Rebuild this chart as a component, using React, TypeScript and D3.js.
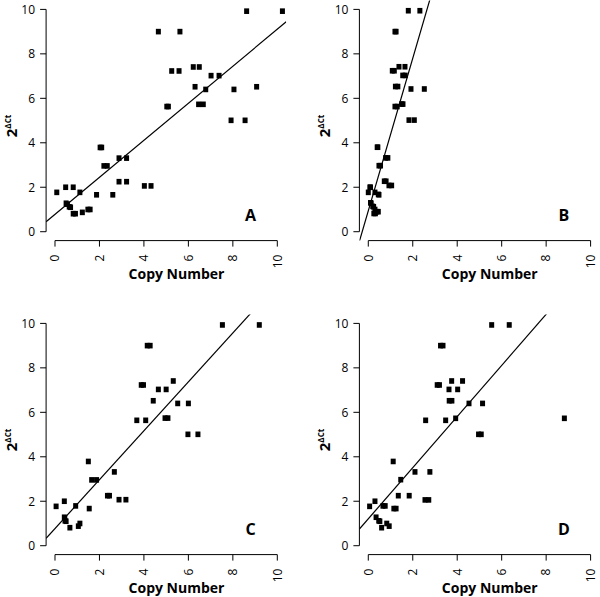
import React from 'react';
import * as d3 from 'd3';

const panelLabels = ['A', 'B', 'C', 'D'];
const xTicks = [0, 2, 4, 6, 8, 10];
const yTicks = [0, 2, 4, 6, 8, 10];
const xLabel = 'Copy Number';

// [copy number, 2^dCt]
const pointsA: [number, number][] = [
  [8.62, 9.92], [10.23, 9.92], [4.65, 9.0], [5.62, 9.0], [6.22, 7.41], [6.49, 7.41],
  [5.25, 7.23], [5.58, 7.23], [7.02, 7.02], [7.38, 7.02], [6.3, 6.52], [9.07, 6.52],
  [6.78, 6.4], [8.05, 6.4], [6.46, 5.73], [6.67, 5.73], [5.03, 5.63], [5.1, 5.63],
  [7.92, 5.01], [8.55, 5.01], [2.03, 3.79], [2.1, 3.79], [2.88, 3.31], [3.22, 3.31],
  [2.2, 2.96], [2.35, 2.96], [2.88, 2.25], [3.22, 2.25], [4.02, 2.06], [4.32, 2.06],
  [0.48, 2.0], [0.82, 2.0], [0.08, 1.77], [1.12, 1.77], [1.87, 1.66], [2.6, 1.66],
  [0.5, 1.28], [0.56, 1.24], [0.64, 1.12], [0.7, 1.1], [1.48, 1.0], [1.58, 1.0],
  [1.23, 0.87], [0.82, 0.81], [0.92, 0.81],
];

const pointsB: [number, number][] = [
  [1.8, 9.94], [2.32, 9.94], [1.2, 9.0], [1.25, 9.0], [1.38, 7.42], [1.65, 7.42],
  [1.08, 7.24], [1.17, 7.24], [1.55, 7.03], [1.66, 7.03], [1.22, 6.53], [1.33, 6.53],
  [1.92, 6.42], [2.52, 6.42], [1.5, 5.74], [1.56, 5.74], [1.2, 5.63], [1.3, 5.63],
  [1.83, 5.02], [2.07, 5.02], [0.4, 3.8], [0.43, 3.8], [0.78, 3.32], [0.88, 3.32],
  [0.48, 2.97], [0.55, 2.97], [0.72, 2.27], [0.8, 2.27], [0.93, 2.08], [1.05, 2.08],
  [0.07, 2.0], [0.1, 2.0], [0.0, 1.77], [0.3, 1.77], [0.45, 1.68], [0.48, 1.66],
  [0.1, 1.3], [0.13, 1.28], [0.2, 1.14], [0.24, 1.12], [0.3, 1.0], [0.38, 0.9],
  [0.45, 0.9], [0.25, 0.82], [0.32, 0.82],
];

const pointsC: [number, number][] = [
  [7.53, 9.93], [9.19, 9.93], [4.15, 9.0], [4.28, 9.0], [5.32, 7.41], [3.88, 7.23],
  [3.98, 7.23], [4.65, 7.03], [5.0, 7.03], [4.42, 6.52], [5.52, 6.4], [6.0, 6.4],
  [4.95, 5.74], [5.08, 5.74], [3.68, 5.64], [4.08, 5.64], [5.98, 5.01], [6.43, 5.01],
  [1.5, 3.79], [2.67, 3.32], [1.65, 2.96], [1.87, 2.96], [2.36, 2.25], [2.45, 2.25],
  [2.88, 2.07], [3.19, 2.07], [0.42, 2.0], [0.05, 1.77], [0.93, 1.79], [1.54, 1.67],
  [0.42, 1.28], [0.44, 1.24], [0.45, 1.12], [0.5, 1.1], [1.12, 1.0], [1.05, 0.88],
  [0.67, 0.81],
];

const pointsD: [number, number][] = [
  [5.55, 9.93], [6.34, 9.93], [3.25, 9.0], [3.36, 9.0], [3.75, 7.41], [4.24, 7.41],
  [3.1, 7.23], [3.2, 7.23], [3.63, 7.03], [4.02, 7.03], [3.64, 6.52], [3.76, 6.52],
  [4.53, 6.4], [5.14, 6.4], [3.93, 5.73], [8.82, 5.73], [2.58, 5.64], [3.48, 5.64],
  [4.96, 5.01], [5.08, 5.01], [1.12, 3.79], [2.1, 3.32], [2.77, 3.32], [1.46, 2.97],
  [1.35, 2.25], [1.84, 2.25], [2.55, 2.06], [2.72, 2.06], [0.3, 2.0], [0.06, 1.77],
  [0.66, 1.79], [0.76, 1.79], [1.15, 1.67], [1.25, 1.67], [0.35, 1.28], [0.47, 1.12],
  [0.52, 1.1], [0.83, 1.0], [0.94, 0.88], [0.6, 0.81],
];

const fitIntercepts = [0.78, 0.94, 0.77, 1.21];
const fitSlopes = [0.833, 3.43, 1.1, 1.15];

const panelData = [pointsA, pointsB, pointsC, pointsD];

const FONT = '"Open Sans", "DejaVu Sans", sans-serif';
const DOMAIN: [number, number] = [-0.4, 10.4];

function Panel({ idx, ox, oy }: { idx: number; ox: number; oy: number }) {
  const left = ox + 46.1;
  const right = ox + 286.2;
  const top = oy + 0.5;
  const bottom = oy + 240.6;
  const x = d3.scaleLinear().domain(DOMAIN).range([left, right]);
  const y = d3.scaleLinear().domain(DOMAIN).range([bottom, top]);
  const pts = panelData[idx];
  const a = fitIntercepts[idx];
  const b = fitSlopes[idx];
  const line = d3.line<number>().x((v) => x(v)).y((v) => y(a + b * v));
  const clipId = `clip-${idx}`;
  const w = 5;
  const h = 5.6;
  return (
    <g>
      <defs>
        <clipPath id={clipId}>
          <rect x={left} y={top} width={right - left} height={bottom - top} />
        </clipPath>
      </defs>
      {/* y axis */}
      <line x1={left} x2={left} y1={y(0)} y2={y(10)} stroke="#000" strokeWidth={1} />
      {yTicks.map((t) => (
        <g key={'y' + t}>
          <line x1={left - 6} x2={left} y1={y(t)} y2={y(t)} stroke="#000" strokeWidth={1} />
          <text x={left - 11} y={y(t)} dy="0.36em" textAnchor="end" fontSize={12} fontFamily={FONT}>
            {t}
          </text>
        </g>
      ))}
      {/* x axis */}
      <line x1={x(0)} x2={x(10)} y1={bottom} y2={bottom} stroke="#000" strokeWidth={1} />
      {xTicks.map((t) => (
        <g key={'x' + t}>
          <line x1={x(t)} x2={x(t)} y1={bottom} y2={bottom + 6} stroke="#000" strokeWidth={1} />
          <text
            transform={`translate(${x(t)},${bottom + 14}) rotate(-90)`}
            dy="0.36em"
            textAnchor="end"
            fontSize={12}
            fontFamily={FONT}
          >
            {t}
          </text>
        </g>
      ))}
      {/* axis titles */}
      <text x={ox + 176.5} y={oy + 279.3} textAnchor="middle" fontSize={14} fontWeight="bold" fontFamily={FONT}>
        {xLabel}
      </text>
      <text transform={`translate(${ox + 17},${oy + 126}) rotate(-90)`} textAnchor="middle" fontFamily={FONT} fontWeight="bold">
        <tspan fontSize={15}>2</tspan>
        <tspan fontSize={8} dy={-6}>ΔCt</tspan>
      </text>
      {/* regression line */}
      <path d={line(DOMAIN) || ''} fill="none" stroke="#000" strokeWidth={1.2} clipPath={`url(#${clipId})`} />
      {/* points */}
      {pts.map((p, i) => (
        <rect key={i} x={x(p[0]) - w / 2} y={y(p[1]) - h / 2} width={w} height={h} fill="#000" />
      ))}
      <text x={ox + 250.5} y={oy + 221} textAnchor="middle" fontSize={16} fontWeight="bold" fontFamily={FONT}>
        {panelLabels[idx]}
      </text>
    </g>
  );
}

export default function App() {
  const offsets: [number, number][] = [
    [0, 0],
    [313.3, 0],
    [0, 314],
    [313.3, 314],
  ];
  return (
    <svg width={600} height={597} style={{ position: 'absolute', left: 0, top: 0, background: '#fff' }}>
      <rect width={600} height={597} fill="#fff" />
      {offsets.map((o, i) => (
        <Panel key={i} idx={i} ox={o[0]} oy={o[1]} />
      ))}
    </svg>
  );
}
